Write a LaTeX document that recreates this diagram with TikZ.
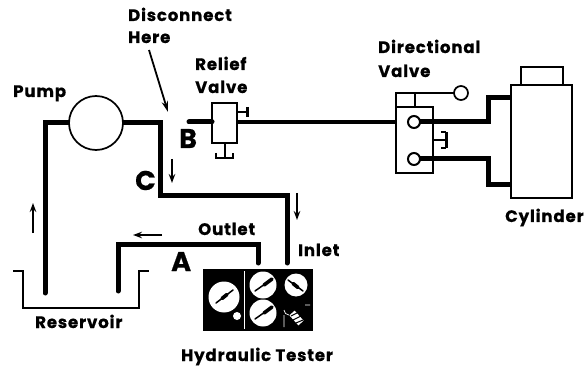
\documentclass[tikz,border=0pt]{standalone}
\usepackage{fontspec}
\setmainfont{Poppins}[BoldFont={* Bold},BoldFeatures={FakeBold=0.6},LetterSpace=5]
\usetikzlibrary{arrows.meta}
\tikzset{
 pipe/.style={line width=5pt,line join=miter,line cap=round},
 thin line/.style={line width=1.7pt},
 lab/.style={anchor=base west,inner sep=0pt,font=\fontsize{16.6}{17}\selectfont\bfseries},
 big/.style={anchor=base west,inner sep=0pt,font=\fontsize{27}{27}\selectfont\bfseries},
 flow/.style={line width=1.7pt,-{Stealth[length=9pt,width=6.5pt]}},
 dial/.style={circle,fill=white,inner sep=0pt},
 needle/.style={line width=1.5pt,black,line cap=round},
 hub/.style={line width=3.6pt,black,line cap=round},
}
\begin{document}
\begin{tikzpicture}[x=1pt,y=-1pt]
\useasboundingbox (0,0) rectangle (586,366);
% pipes
\coordinate (rb1) at (45,293); \coordinate (rb2) at (118,291);
\coordinate (pl) at (69,123); \coordinate (pr) at (123,123);
\coordinate (tin) at (287,263); \coordinate (tout) at (258,263);
\draw[pipe] (rb1) -- (45,123) -- (pl);
\draw[pipe] (pr) -- (160,123) -- (160,196) -- (287,196) -- (tin);
\draw[pipe] (rb2) -- (118,244) -- (258,244) -- (tout);
\node[circle,draw,line width=1.7pt,fill=white,minimum size=54pt,inner sep=0pt] (pump) at (96,123) {};
% reservoir
\draw[thin line] (13,271) -- (23,271) -- (23,308) -- (139,308) -- (139,271) -- (149,271);
% relief valve
\coordinate (bl) at (189,122);
\node[draw,line width=1.7pt,fill=white,minimum width=25pt,minimum height=40pt,inner sep=0pt] (rv) at (224.5,123) {};
\draw[line width=5pt,line cap=round] (bl) -- (212,122);
\draw[thin line] (237,112) -- (247,112);
\draw[line width=3pt] (247,107) -- (247,117);
\draw[thin line] (225,143) -- (225,157);
\draw[line width=2.4pt] (216,153) -- (216,158) -- (233,158) -- (233,153);
% directional valve
\node[draw,line width=1.7pt,fill=white,minimum width=37pt,minimum height=66pt,inner sep=0pt] (dv) at (414.5,140) {};
\draw[thin line] (396,107) -- (396,93) -- (454,93);
\draw[thin line] (415,93) -- (415,107);
\node[circle,draw,line width=1.7pt,fill=white,minimum size=14pt,inner sep=0pt] (lever) at (461,93) {};
\draw[line width=4.5pt] (237,122) -- (396,122);
\draw[pipe,line cap=butt] (414,122) -- (488,122) -- (488,98) -- (511,98);
\draw[pipe,line cap=butt] (414,159) -- (488,159) -- (488,185) -- (511,185);
\node[circle,draw,line width=2pt,fill=white,minimum size=12pt,inner sep=0pt] (p1) at (414,122) {};
\node[circle,draw,line width=2pt,fill=white,minimum size=12pt,inner sep=0pt] (p2) at (414,159) {};
\draw[thin line] (433,140) -- (446,140);
\draw[line width=3pt] (446,132) -- (446,148);
\draw[thin line] (441,132) -- (446,132) (441,148) -- (446,148);
% cylinder
\node[draw,line width=1.7pt,minimum width=61pt,minimum height=113pt,inner sep=0pt] (cyl) at (541.5,141.5) {};
\draw[thin line] (521,85) -- (521,67) -- (563,67) -- (563,85);
% tester
\node[fill=black,minimum width=110pt,minimum height=62pt,inner sep=0pt] (tester) at (258,300) {};
\draw[white,line width=.7pt] (244,271) -- (244,329);
\node[dial,minimum size=31pt] (d1) at (224,297) {};
\node[dial,minimum size=27pt] (d2) at (263,285) {};
\node[dial,minimum size=23pt] (d3) at (296,285) {};
\node[dial,minimum size=27pt] (d4) at (263,313) {};
\node[dial,minimum size=8pt] (d5) at (237,316) {};
\draw[needle] (216,303) -- (233,290); \draw[hub] (222,298.5) -- (227,294.5);
\draw[needle] (255,291) -- (265,284); \draw[hub] (264,285) -- (272,279);
\draw[needle] (288,280) -- (303,291); \draw[hub] (293,283.5) -- (298,287.5);
\draw[needle] (255,319) -- (265,312); \draw[hub] (264,313) -- (272,307);
\draw[white,line width=7pt] (292,313) -- (301,323);
\draw[black,line width=1pt] (291,316) -- (297,313) (293,320) -- (301,316) (296,323) -- (303,320);
\draw[white,line width=.7pt] (284,310) arc (180:90:5) (305,305) -- (310,305) (284,315) -- (284,327);
% arrows
\coordinate (dh) at (149,50); \coordinate (dhe) at (168,112);
\draw[line width=1.8pt,-{Stealth[length=11pt,width=6.5pt]}] (dh) -- (dhe);
\draw[flow] (172,159) -- (172,183);
\draw[flow] (297,193) -- (297,220);
\draw[flow] (33,233) -- (33,203);
\draw[flow] (162,235) -- (133,235);
% text
\node[lab] (t1) at (128,21) {Disconnect};
\node[lab] (t2) at (128,43) {Here};
\node[lab] (t3) at (195,70) {Relief};
\node[lab] (t4) at (195,93) {Valve};
\node[lab] (t5) at (13,97) {Pump};
\node[lab] (t6) at (378,53) {Directional};
\node[lab] (t7) at (378,77) {Valve};
\node[lab] (t8) at (505,222) {Cylinder};
\node[lab] (t9) at (198,235) {Outlet};
\node[lab] (t10) at (298,256) {Inlet};
\node[lab] (t11) at (35,328) {Reservoir};
\node[lab] (t12) at (181,361) {Hydraulic Tester};
\node[big] (B) at (179,148) {B};
\node[big] (C) at (135,190) {C};
\node[big] (A) at (171,271) {A};
\end{tikzpicture}
\end{document}
